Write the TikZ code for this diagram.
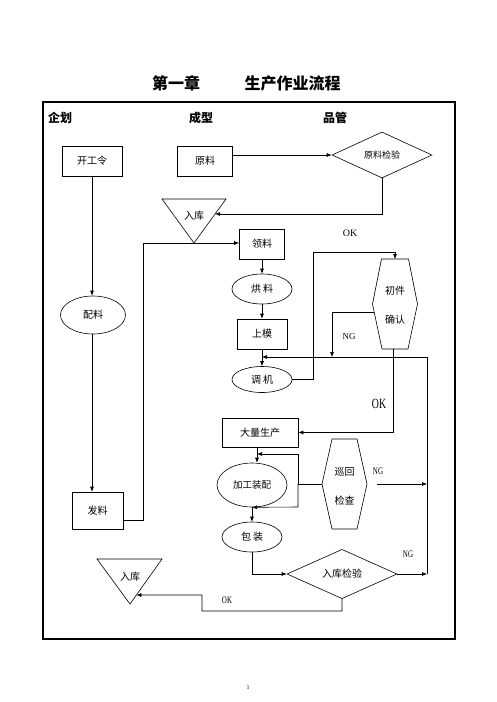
\documentclass[tikz,border=0pt]{standalone}
\usepackage{fontspec}
\setmainfont{Liberation Serif}
\newfontfamily\cjk{Noto Sans CJK SC}
\usetikzlibrary{shapes.geometric,arrows.meta,calc}
\begin{document}
\begin{tikzpicture}[x=1pt,y=-1pt,
  every node/.style={font=\cjk\fontsize{10}{12}\selectfont},
  box/.style={draw,line width=0.6pt,inner sep=0pt},
  oval/.style={draw,ellipse,line width=0.6pt,inner sep=0pt},
  dia/.style={draw,diamond,line width=0.6pt,inner sep=0pt},
  conn/.style={line width=0.6pt},
  arr/.style={conn,-{Latex[length=5pt,width=4pt]}},
  lab/.style={font=\fontsize{10}{12}\selectfont},
  clab/.style={font=\fontsize{10}{12}\selectfont,xscale=0.7,transform shape},
  head/.style={font=\cjk\bfseries\fontsize{12}{14}\selectfont},
  ]
\useasboundingbox (0,0) rectangle (496,702);
% title
\node[font=\cjk\bfseries\fontsize{16}{18}\selectfont] (tA) at (176,83) {第一章};
\node[font=\cjk\bfseries\fontsize{16}{18}\selectfont] (tB) at (292.5,83) {生产作业流程};
% frame
\draw[line width=1.8pt] (43,102) rectangle (455,639);
\node[head] (hA) at (60,118) {企划};
\node[head] (hB) at (201,118) {成型};
\node[head] (hC) at (335,118) {品管};
% top row
\node[box,minimum width=60pt,minimum height=30pt] (kg) at (92,161) {开工令};
\node[box,minimum width=55pt,minimum height=30pt] (yl) at (205,161) {原料};
\node[dia,minimum width=100pt,minimum height=46pt,font=\cjk\fontsize{9}{11}\selectfont] (yj) at (382,155) {原料检验};
\draw[arr] (yl.east |- yj) -- (yj.west);
% triangle 1
\coordinate (t1a) at (162,199); \coordinate (t1b) at (226,199); \coordinate (t1v) at (194,243);
\draw[conn] (t1a) -- (t1b) -- (t1v) -- cycle;
\node (t1) at (194,216) {入库};
\coordinate (t1e) at ($(t1b)!0.34!(t1v)$);
\draw[arr] (yj.south) |- (t1e);
% left column
\node[oval,minimum width=65pt,minimum height=38pt] (pl) at (93,315) {配料};
\node[box,minimum width=51pt,minimum height=37pt] (fl) at (97.5,510.5) {发料};
\draw[arr] (kg.south) -- (kg.south |- pl.north);
\draw[arr] (kg.south |- pl.south) -- (kg.south |- fl.north);
% middle column
\node[box,minimum width=45pt,minimum height=30pt] (ll) at (262,244) {领料};
\node[oval,minimum width=60pt,minimum height=30pt] (hl) at (262,289) {烘\hspace{2pt}料};
\node[box,minimum width=50pt,minimum height=30pt] (sm) at (262,334) {上模};
\node[oval,minimum width=60pt,minimum height=26pt] (tj) at (262,379.5) {调\hspace{2pt}机};
\coordinate (j0) at (143,520); \coordinate (j1) at (143,243);
\draw[arr] (fl.east |- j0) -- (j0) -- (j1) -- (j1 -| ll.west);
\draw[arr] (ll) -- (hl);
\draw[arr] (hl) -- (sm);
\draw[arr] (sm) -- (tj);
% right feedback line
\coordinate (r1) at (427,357); \coordinate (r2) at (427,574); \coordinate (jm) at (262,357);
\draw[arr] (r2) -- (r1) -- (jm);
% hexagon 1
\draw[conn] (381.5,259) -- (408.5,259) -- (417.5,304) -- (408,349) -- (382,349) -- (372.5,304) -- cycle;
\node[align=center] (h1) at (395,305) {初件\\[17pt]确认};
\coordinate (h1t) at (395,259); \coordinate (h1b) at (393,349); \coordinate (h1l) at (374,312);
\coordinate (k1) at (313,252); \coordinate (k2) at (332,312);
\draw[arr] (tj.east) -| (k1) -| (h1t);
\node[lab] (ok1) at (350,233) {OK};
\draw[arr] (h1l) -- (k2) -- (k2 |- r1);
\node[lab,font=\fontsize{9}{11}\selectfont] (ng1) at (349,337) {NG};
% production
\node[box,minimum width=76pt,minimum height=29pt] (dl) at (260,432.5) {大量生产};
\draw[arr] (h1b) |- (dl.east);
\node[font=\fontsize{14}{16}\selectfont,xscale=0.7,transform shape] (ok2) at (379,404) {OK};
\node[oval,minimum width=70pt,minimum height=44pt,font=\cjk\fontsize{9.5}{11}\selectfont] (jg) at (252,485) {加工装配};
\node[oval,minimum width=60pt,minimum height=30pt] (bz) at (252,537) {包\hspace{2pt}装};
\draw[arr] ([xshift=-3pt]dl.south) -- ([xshift=-3pt]dl.south |- jg.north);
% hexagon 2
\draw[conn] (332,439) -- (357,439) -- (367,484) -- (357,529) -- (332,529) -- (322,484) -- cycle;
\node[align=center] (h2) at (344.5,486) {巡回\\[17pt]检查};
\coordinate (h2l) at (322,484); \coordinate (k3) at (298,484);
\coordinate (k3u) at (298,454); \coordinate (k3d) at (298,507);
\draw[conn] (h2l) -- (k3);
\draw[arr] (k3) -- (k3u) -- ([xshift=-3pt]dl.south |- k3u);
\draw[arr] (k3) -- (k3d) -- (jg.south);
\draw[arr] (jg.south) -- (bz.north);
\coordinate (h2n) at (377,484);
\draw[arr] (h2n) -- (r1 |- h2n);
\node[clab] (ng2) at (378,471) {NG};
% inspection
\node[dia,minimum width=110pt,minimum height=44pt] (rj) at (342,574) {入库检验};
\draw[arr] (bz.south) |- (rj.west);
\draw[arr] (rj.east) -- (r2);
\node[clab] (ng3) at (408,554) {NG};
% triangle 2
\coordinate (t2a) at (97,559); \coordinate (t2b) at (162,559); \coordinate (t2v) at (130,604);
\draw[conn] (t2a) -- (t2b) -- (t2v) -- cycle;
\node (t2) at (130,577) {入库};
\coordinate (t2e) at ($(t2b)!0.8!(t2v)$);
\coordinate (k4) at (342,611); \coordinate (k5) at (202,611); \coordinate (k6) at (202,595);
\draw[arr] (rj.south) -- (k4) -- (k5) -- (k6) -- (t2e);
\node[clab] (ok3) at (227,600) {OK};
% page number
\node[font=\fontsize{6}{7}\selectfont] (pg) at (248,688) {1};
\end{tikzpicture}
\end{document}
